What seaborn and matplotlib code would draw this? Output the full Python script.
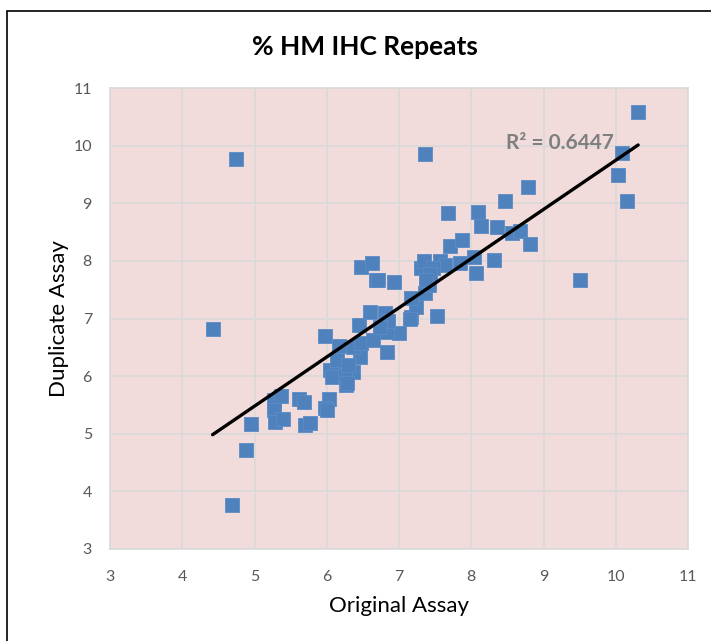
import numpy as np
import pandas as pd
import matplotlib
matplotlib.use("Agg")
import matplotlib.pyplot as plt
from matplotlib.patches import Rectangle
import seaborn as sns

# Paired measurements: original run vs duplicate run
original = [4.42, 4.74, 4.69, 4.88, 4.95, 5.27, 5.37, 5.27, 5.28, 5.39,
            5.62, 5.68, 5.70, 5.77, 6.03, 5.98, 6.01, 5.98, 6.17, 6.04,
            6.14, 6.07, 6.27, 6.37, 6.25, 6.46, 6.37, 6.44, 6.60, 6.80,
            6.48, 6.64, 6.83, 7.00, 6.83, 7.17, 7.24, 6.48, 6.62, 6.68,
            6.71, 6.93, 6.85, 6.28, 7.17, 7.15, 7.36, 7.41, 7.52, 7.31,
            7.34, 7.57, 7.64, 7.47, 7.43, 7.38, 7.71, 7.87, 7.84, 8.04,
            8.07, 8.31, 8.14, 8.36, 8.56, 8.67, 8.81, 7.36, 10.31, 10.08,
            10.03, 10.16, 9.50, 8.79, 8.47, 7.68, 8.10, 6.14, 6.30, 6.74]
duplicate = [6.81, 9.77, 3.76, 4.71, 5.17, 5.59, 5.66, 5.41, 5.21, 5.26,
             5.60, 5.55, 5.15, 5.18, 5.60, 5.44, 5.41, 6.70, 6.52, 6.11,
             6.08, 5.99, 5.85, 6.08, 6.02, 6.34, 6.51, 6.89, 7.12, 7.09,
             6.57, 6.63, 6.42, 6.74, 6.77, 7.03, 7.20, 7.90, 7.97, 7.67,
             7.66, 7.64, 6.95, 5.88, 7.35, 6.99, 7.44, 7.58, 7.05, 7.87,
             7.99, 7.99, 7.93, 7.87, 7.78, 7.67, 8.25, 8.37, 7.96, 8.07,
             7.79, 8.02, 8.60, 8.59, 8.49, 8.52, 8.30, 9.85, 10.59, 9.87,
             9.49, 9.04, 7.67, 9.29, 9.04, 8.83, 8.84, 6.28, 6.20, 6.86]
r_squared_label = "R² = 0.6447"
ticks = [3, 4, 5, 6, 7, 8, 9, 10, 11]

df = pd.DataFrame({"Original Assay": original, "Duplicate Assay": duplicate})

sns.set_theme(style="white")
plt.rcParams["font.family"] = ["Lato", "DejaVu Sans"]

fig = plt.figure(figsize=(7.11, 6.41), dpi=100)
ax = fig.add_axes([110 / 711, 1 - 549 / 641, 578 / 711, 461 / 641])
ax.set_facecolor("#F2DCDB")

sns.scatterplot(data=df, x="Original Assay", y="Duplicate Assay", ax=ax,
                marker="s", s=115, color="#4F81BD", edgecolor="#5B8CC6",
                linewidth=0.6, zorder=3)
sns.regplot(data=df, x="Original Assay", y="Duplicate Assay", ax=ax,
            scatter=False, ci=None, truncate=True,
            line_kws={"color": "black", "linewidth": 2.4, "zorder": 4})

ax.set_xlim(3, 11)
ax.set_ylim(3, 11)
ax.set_xticks(ticks)
ax.set_yticks(ticks)
ax.grid(True, color="#D9D9D9", linewidth=1.2, zorder=0)
ax.set_axisbelow(True)
for sp in ax.spines.values():
    sp.set_color("#D9D9D9")
    sp.set_linewidth(1.2)
ax.tick_params(axis="x", length=0, labelsize=11.5, labelcolor="#595959", pad=15)
ax.tick_params(axis="y", length=0, labelsize=11.5, labelcolor="#595959", pad=13)

ax.set_xlabel("Original Assay", fontsize=16, color="black", labelpad=9)
ax.set_ylabel("Duplicate Assay", fontsize=16, color="black", labelpad=3)

ax.text(9.23, 10.05, r_squared_label, fontsize=15, fontweight="bold",
        color="#7F7F7F", ha="center", va="center", zorder=5)

fig.text(365 / 711, 1 - 47 / 641, "% HM IHC Repeats", fontsize=19,
         fontweight="bold", ha="center", va="center", color="black")

# Chart frame
fig.patches.append(Rectangle((7 / 711, -0.1), 1.2, 1 - 11 / 641 + 0.1,
                             transform=fig.transFigure, fill=False,
                             edgecolor="black", linewidth=1.2))

fig.savefig("out.png", dpi=100)
